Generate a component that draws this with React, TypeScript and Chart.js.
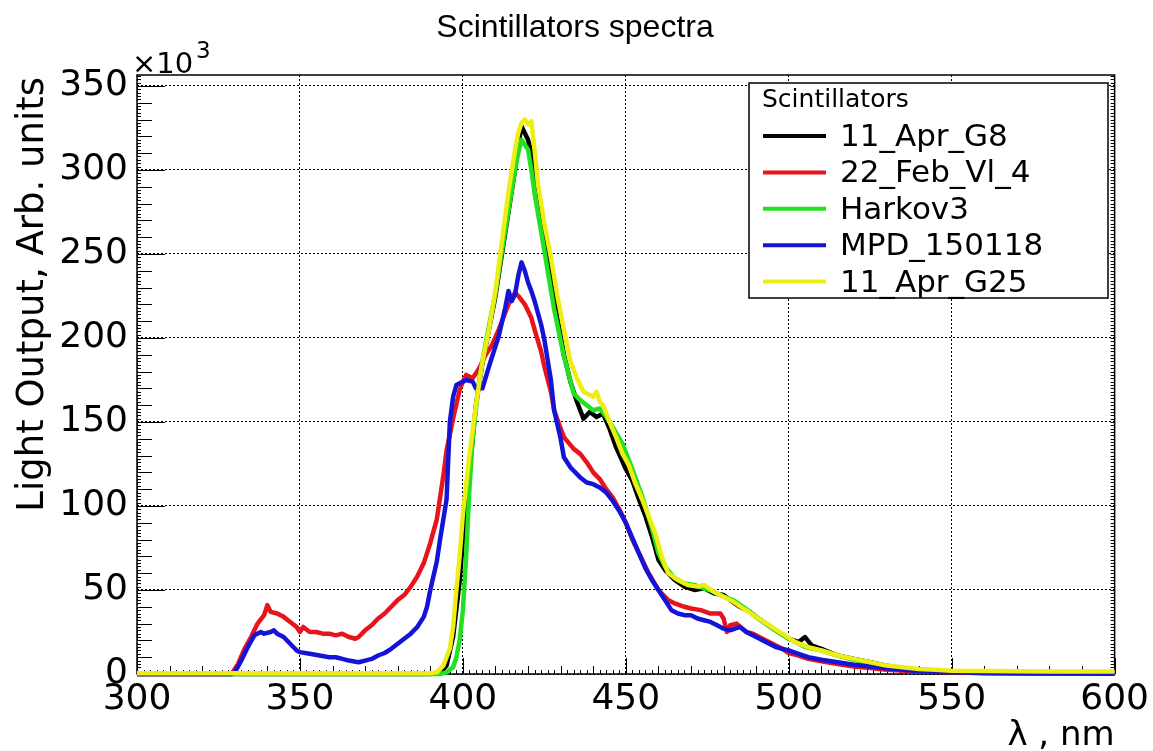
import { useEffect, useRef } from "react";
import { Chart, registerables } from "chart.js";

Chart.register(...registerables);

const TITLE = "Scintillators spectra";
const X_TITLE = "λ , nm";
const Y_TITLE = "Light Output, Arb. units";
const LEGEND_TITLE = "Scintillators";
const Y_MULT_BASE = "×10";
const Y_MULT_EXP = "3";

const X_MIN = 300;
const X_MAX = 600;
const Y_MIN = 0;
const Y_MAX = 356.5;
const MAJOR_STEP = 50;

const seriesNames = ["11_Apr_G8", "22_Feb_Vl_4", "Harkov3", "MPD_150118", "11_Apr_G25"];
const seriesColors = ["#000000", "#e8141c", "#22e022", "#1414d8", "#eeee14"];
const drawOrder = [4, 3, 2, 1, 0];

// values in units of 10^3
const wlG8 = [300,390,393,395,397,399,400,402,404,406,408,410,412,414,416,417,418,419,420,421,423,425,427,429,431,433,435,437,439,441,443,445,447,450,452,454,456,458,460,462,465,468,471,474,477,480,482,485,488,490,493,496,500,503,505,507,510,515,520,525,530,535,540,545,550,560,570,580,590,600];
const valG8 = [0,0,1,5,22,55,80,120,160,185,205,225,250,275,300,315,326,322,318,310,290,265,240,212,190,174,162,152,156,153,155,146,135,122,115,104,94,82,68,62,56,52,50,51,48,47,44,40,37,34,30,26,21,19,22,17,15,11,9,7,5,3.5,2.5,1.8,1.3,0.8,0.6,0.5,0.4,0.3];

const wlFeb = [300,329,331,333,335,337,339,340,341,343,345,347,349,350,351,353,355,357,359,361,363,365,367,368,370,372,374,376,378,380,382,384,386,388,390,392,394,395,397,399,400,401,403,405,407,409,411,413,414,416,417,419,421,422,424,425,427,428,430,431,434,436,438,440,442,444,446,448,450,452,453,455,457,460,463,465,468,470,473,476,479,480,481,482,484,487,489,492,495,498,500,503,506,510,515,520,525,530,540,550,560,580,600];
const valFeb = [0,0,6,15,22,30,35,41,37,36,34,31,28,25,28,25,25,24,24,23,24,22,21,22,26,29,33,36,40,44,47,52,58,66,78,92,118,133,152,169,174,178,176,182,190,196,205,215,220,227,225,220,212,205,192,183,168,157,146,141,134,131,126,120,116,110,105,98,90,80,76,68,60,50,44,42,40,39,38,36,36,33,25,29,30,25,24,21,18,15,12.5,11,9,7.5,6,4.5,3.5,2.5,1.5,1,0.5,0.3,0.2];

const wlH3 = [300,393,395,397,398,399,400,401,402,403,405,407,410,412,414,416,417,418,419,420,421,422,425,428,431,434,436,438,440,442,444,446,449,452,455,458,460,462,465,468,471,474,477,480,483,486,490,495,500,505,510,515,520,525,530,535,540,550,560,580,600];
const valH3 = [0,0,1,4,10,20,38,70,110,140,175,197,227,252,276,300,310,318,315,312,300,286,252,217,189,167,163,160,157,158,153,147,137,122,106,87,72,64,57,54,53,51,49,46,44,40,34,27,21,16,14,11,8.5,6.5,5,3.5,2.5,1.5,1,0.6,0.4];

const wlMpd = [300,329,330,332,334,336,338,339,341,342,343,345,347,349,350,353,356,359,361,363,365,368,370,372,374,376,378,380,382,384,386,388,389,390,392,393,395,396,397,398,401,403,404,406,408,410,411,413,414,415,416,417,418,419,420,421,422,424,425,427,428,430,431,433,434,436,438,440,442,444,446,448,450,452,454,456,458,460,462,464,466,468,470,472,474,476,478,480,482,485,487,490,493,496,500,503,506,510,515,520,525,530,535,540,545,550,560,580,600];
const valMpd = [0,0,1,8,16,23,25,24,25,26,24,22,18,14,13,12,11,10,10,9,8,7,8,9,11,12.5,15,18,21,24,28,34,40,50,67,80,104,150,165,172,175,174,170,170,183,195,201,218,228,222,226,237,245,240,233,228,222,208,199,175,157,140,129,123,121,117,114,113,111,108,103,97,90,81,72,63,56,50,44,38,36,35,35,33,32,31,29,27,26,28,25,22,19,16,14,12,10,8.5,7,5.5,4.5,3.4,2.5,1.8,1.4,1,0.6,0.3,0.2];

const wlG25 = [300,390,392,394,396,397,398,399,400,402,404,406,408,410,412,414,416,417,418,419,420,421,422,423,425,427,429,431,433,435,437,439,440,441,442,443,445,447,449,451,453,455,457,459,461,463,466,469,472,474,477,480,483,486,490,494,498,502,506,510,515,520,525,530,535,540,545,550,560,570,580,590,600];
const valG25 = [0.5,0.5,1,5,15,28,50,70,95,130,160,186,205,228,258,287,312,322,328,330,327,329,312,292,268,248,225,205,186,176,168,166,165,168,162,160,150,141,131,124,113,104,94,84,70,60,56,53,52,53,49,46,43,39,34,29,24,19,16,14,11,9,7,5,4,3,2.5,2,1.8,1.6,1.5,1.5,1.5];

const seriesX = [wlG8, wlFeb, wlH3, wlMpd, wlG25];
const seriesY = [valG8, valFeb, valH3, valMpd, valG25];

const FONT = "DejaVu Sans";
const TITLE_FONT = "Liberation Sans";

const rootPlugin = {
  id: "rootStyle",
  beforeDatasetsDraw(chart: any) {
    const { ctx, chartArea: a, scales } = chart;
    const xs = scales.x;
    const ys = scales.y;
    ctx.save();
    ctx.strokeStyle = "#000";
    ctx.lineWidth = 1;
    ctx.beginPath();
    for (let v = X_MIN; v <= X_MAX; v += 2) {
      const px = Math.round(xs.getPixelForValue(v)) + 0.5;
      const len = v % MAJOR_STEP === 0 ? 16 : v % 10 === 0 ? 8 : 4;
      ctx.moveTo(px, a.bottom);
      ctx.lineTo(px, a.bottom - len);
    }
    for (let v = Y_MIN; v <= Y_MAX; v += 2) {
      const py = Math.round(ys.getPixelForValue(v)) + 0.5;
      const len = v % MAJOR_STEP === 0 ? 28 : v % 10 === 0 ? 15 : 4;
      ctx.moveTo(a.left, py);
      ctx.lineTo(a.left + len, py);
      ctx.moveTo(a.right, py);
      ctx.lineTo(a.right - 4, py);
    }
    ctx.stroke();
    ctx.lineWidth = 1.5;
    ctx.strokeRect(a.left, a.top, a.right - a.left, a.bottom - a.top);
    ctx.restore();
  },
  afterDraw(chart: any) {
    const { ctx, chartArea: a } = chart;
    ctx.save();
    ctx.fillStyle = "#000";
    // title
    ctx.font = `32px '${TITLE_FONT}'`;
    ctx.textAlign = "center";
    ctx.textBaseline = "alphabetic";
    ctx.fillText(TITLE, 575, 37);
    // multiplier
    ctx.textAlign = "left";
    ctx.font = `29px '${FONT}'`;
    ctx.fillText(Y_MULT_BASE, 132, 73);
    ctx.font = `23px '${FONT}'`;
    ctx.fillText(Y_MULT_EXP, 196, 58);
    // x title
    ctx.font = `34px '${FONT}'`;
    ctx.textAlign = "right";
    ctx.fillText(X_TITLE, a.right, 745);
    // y title
    ctx.save();
    ctx.translate(43, 77);
    ctx.rotate(-Math.PI / 2);
    ctx.font = `37px '${FONT}'`;
    ctx.textAlign = "right";
    ctx.fillText(Y_TITLE, 0, 0);
    ctx.restore();
    // legend
    const lx = 749, ly = 83, lw = 359, lh = 215;
    ctx.fillStyle = "#fff";
    ctx.fillRect(lx, ly, lw, lh);
    ctx.strokeStyle = "#000";
    ctx.lineWidth = 1.5;
    ctx.strokeRect(lx, ly, lw, lh);
    ctx.fillStyle = "#000";
    ctx.textAlign = "left";
    ctx.font = `25px '${FONT}'`;
    ctx.fillText(LEGEND_TITLE, 762, 107);
    ctx.font = `31px '${FONT}'`;
    chart.data.datasets.forEach((ds: any, i: number) => {
      const yl = 136 + i * 36.4;
      ctx.strokeStyle = ds.borderColor;
      ctx.lineWidth = 4;
      ctx.beginPath();
      ctx.moveTo(763, yl);
      ctx.lineTo(826, yl);
      ctx.stroke();
      ctx.fillStyle = "#000";
      ctx.fillText(ds.label, 840, yl + 10);
    });
    ctx.restore();
  },
};

export default function App() {
  const ref = useRef<HTMLCanvasElement | null>(null);
  useEffect(() => {
    if (!ref.current) return;
    const datasets = seriesNames.map((name, i) => ({
      label: name,
      data: seriesX[i].map((x, j) => ({ x, y: seriesY[i][j] })),
      borderColor: seriesColors[i],
      backgroundColor: seriesColors[i],
      borderWidth: 4.5,
      pointRadius: 0,
      tension: 0,
      fill: false,
      order: drawOrder[i],
      clip: 3,
      borderJoinStyle: "round" as const,
    }));
    const chart = new Chart(ref.current, {
      type: "line",
      data: { datasets },
      options: {
        animation: false,
        responsive: false,
        devicePixelRatio: 1,
        layout: { padding: { left: 0, top: 75, right: 35, bottom: 0 } },
        plugins: { legend: { display: false }, tooltip: { enabled: false }, title: { display: false } },
        scales: {
          x: {
            type: "linear",
            min: X_MIN,
            max: X_MAX,
            afterFit(s: any) { s.height = 77; },
            ticks: { stepSize: MAJOR_STEP, autoSkip: false, maxRotation: 0, padding: 4, color: "#000", font: { family: FONT, size: 36 } },
            grid: { color: "#000", lineWidth: 1, drawTicks: false },
            border: { display: false, dash: [2, 2] },
          },
          y: {
            type: "linear",
            min: Y_MIN,
            max: Y_MAX,
            afterFit(s: any) { s.width = 137; },
            ticks: { stepSize: MAJOR_STEP, includeBounds: false, padding: 9, color: "#000", font: { family: FONT, size: 36 } },
            grid: { color: "#000", lineWidth: 1, drawTicks: false },
            border: { display: false, dash: [2, 2] },
          },
        },
      },
      plugins: [rootPlugin],
    });
    return () => chart.destroy();
  }, []);
  return (
    <div style={{ position: "fixed", left: 0, top: 0, width: 1153, height: 751, background: "#fff" }}>
      <canvas ref={ref} width={1153} height={751} style={{ width: 1153, height: 751, display: "block" }} />
    </div>
  );
}
